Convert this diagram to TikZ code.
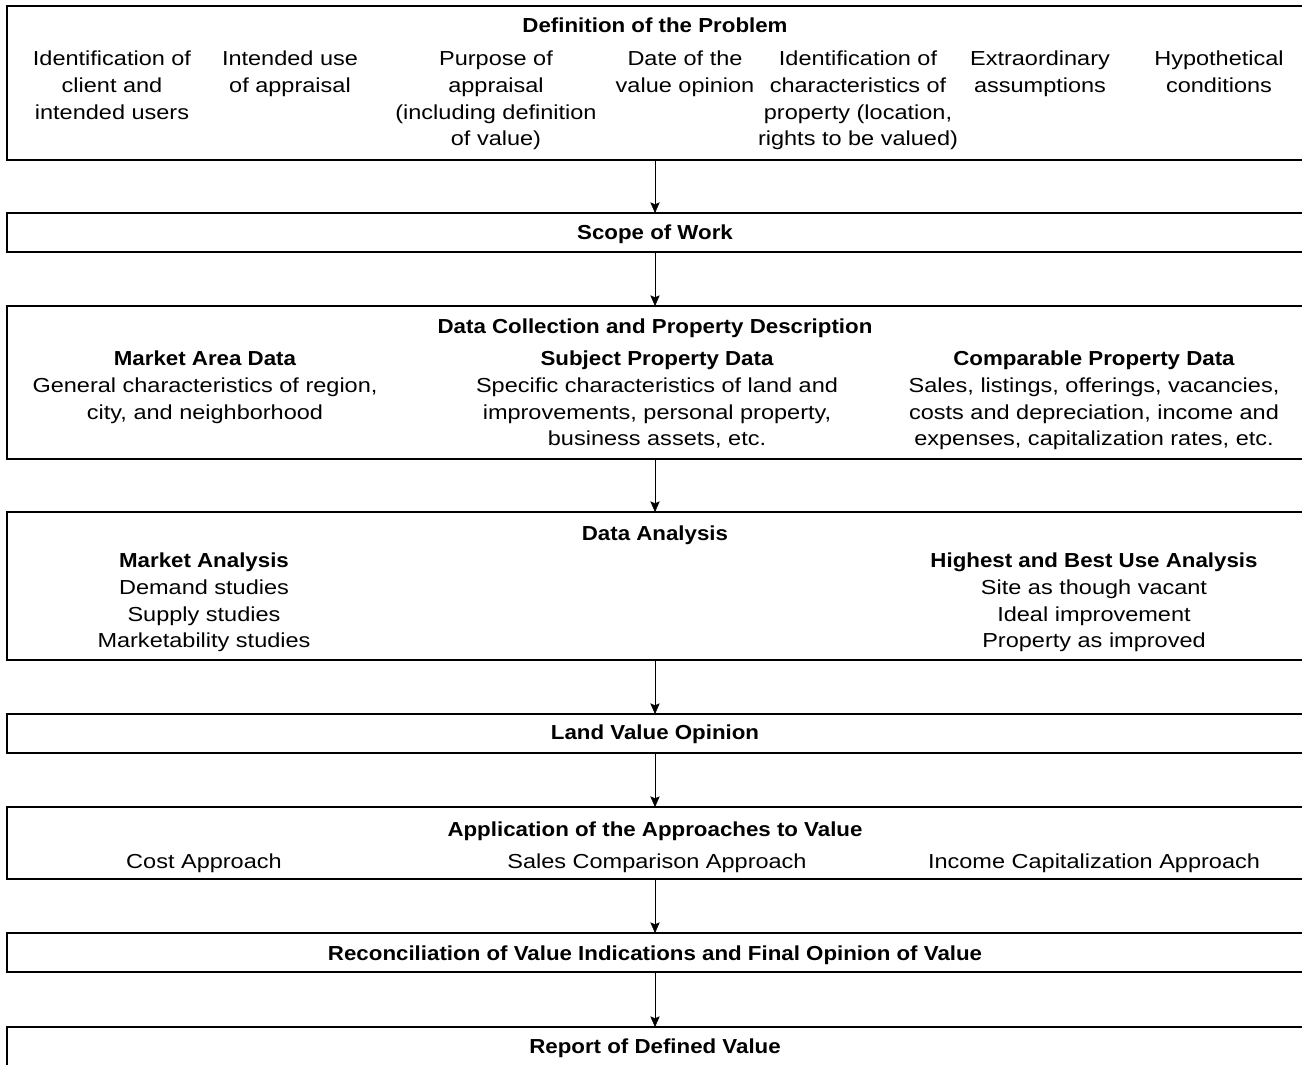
\documentclass[tikz,border=0pt]{standalone}
\usepackage{fontspec}
\setmainfont{Liberation Sans}[FakeStretch=1.16]
\newfontfamily\headfont{Liberation Sans}[FakeStretch=1.1]
\usetikzlibrary{arrows.meta}

\begin{document}
\begin{tikzpicture}[x=0.75pt, y=-0.75pt,
  >={Stealth[length=8pt, width=7pt, inset=1.5pt]},
  box/.style={draw, line width=1.2pt, rectangle, minimum width={1296*0.75pt}, inner sep=0pt, outer sep=0pt},
  head/.style={font=\headfont\bfseries\fontsize{15.2}{20}\selectfont, inner sep=0pt, anchor=base},
  item/.style={font=\fontsize{15.2}{20}\selectfont, inner sep=0pt, anchor=base},
  txt/.style={font=\fontsize{15.2}{20}\selectfont, align=center, inner sep=0pt, anchor=north}]
\useasboundingbox (0,0) rectangle (1302,1064);

\node[box, minimum height={154*0.75pt}](B1) at (655,83) {};
\node[box, minimum height={39*0.75pt}](B2) at (655,232.5) {};
\node[box, minimum height={153*0.75pt}](B3) at (655,382.5) {};
\node[box, minimum height={148*0.75pt}](B4) at (655,586) {};
\node[box, minimum height={39*0.75pt}](B5) at (655,733.5) {};
\node[box, minimum height={72*0.75pt}](B6) at (655,843) {};
\node[box, minimum height={39*0.75pt}](B7) at (655,952.5) {};
\node[box, minimum height={53*0.75pt}](B8) at (655,1053.5) {};

\node[head](B1_t) at (655,32) {Definition of the Problem};
\node[txt](B1_c1) at (112,51) {Identification of\\client and\\intended users};
\node[txt](B1_c2) at (290,51) {Intended use\\of appraisal};
\node[txt](B1_c3) at (496,51) {Purpose of\\appraisal\\(including definition\\of value)};
\node[txt](B1_c4) at (685,51) {Date of the\\value opinion};
\node[txt](B1_c5) at (858,51) {Identification of\\characteristics of\\property (location,\\rights to be valued)};
\node[txt](B1_c6) at (1040,51) {Extraordinary\\assumptions};
\node[txt](B1_c7) at (1219,51) {Hypothetical\\conditions};

\node[head](B2_t) at (655,239) {Scope of Work};

\node[head](B3_t) at (655,333) {Data Collection and Property Description};
\node[txt](B3_c1) at (205,351) {{\headfont\bfseries Market Area Data}\\General characteristics of region,\\city, and neighborhood};
\node[txt](B3_c2) at (657,351) {{\headfont\bfseries Subject Property Data}\\Specific characteristics of land and\\improvements, personal property,\\business assets, etc.};
\node[txt](B3_c3) at (1094,351) {{\headfont\bfseries Comparable Property Data}\\Sales, listings, offerings, vacancies,\\costs and depreciation, income and\\expenses, capitalization rates, etc.};

\node[head](B4_t) at (655,540) {Data Analysis};
\node[txt](B4_c1) at (204,553) {{\headfont\bfseries Market Analysis}\\Demand studies\\Supply studies\\Marketability studies};
\node[txt](B4_c2) at (1094,553) {{\headfont\bfseries Highest and Best Use Analysis}\\Site as though vacant\\Ideal improvement\\Property as improved};

\node[head](B5_t) at (655,739) {Land Value Opinion};

\node[head](B6_t) at (655,836) {Application of the Approaches to Value};
\node[item](B6_c1) at (204,868) {Cost Approach};
\node[item](B6_c2) at (657,868) {Sales Comparison Approach};
\node[item](B6_c3) at (1094,868) {Income Capitalization Approach};

\node[head](B7_t) at (655,960) {Reconciliation of Value Indications and Final Opinion of Value};

\node[head](B8_t) at (655,1053) {Report of Defined Value};

\draw[->](B1.south) to (B2.north);
\draw[->](B2.south) to (B3.north);
\draw[->](B3.south) to (B4.north);
\draw[->](B4.south) to (B5.north);
\draw[->](B5.south) to (B6.north);
\draw[->](B6.south) to (B7.north);
\draw[->](B7.south) to (B8.north);
\end{tikzpicture}
\end{document}
